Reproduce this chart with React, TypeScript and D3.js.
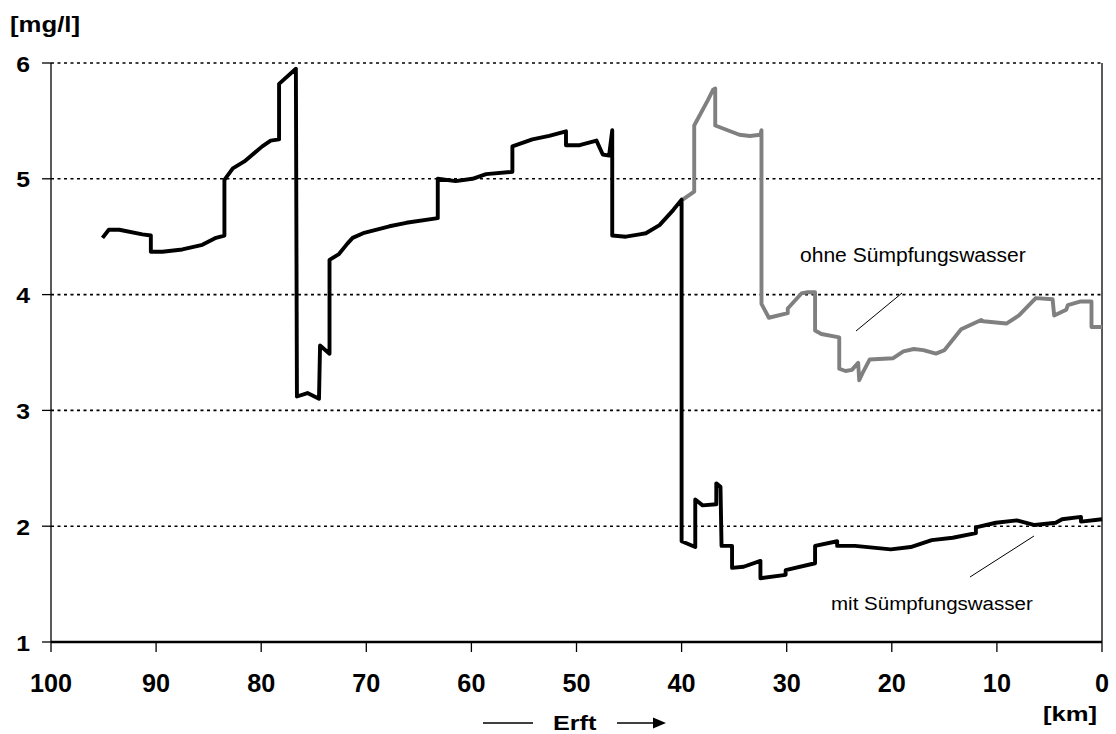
import React from "react";
import * as d3 from "d3";

// Black series: upstream part and "mit Sümpfungswasser"
const blackKm = [95.1, 94.5, 93.5, 91.3, 90.5, 90.5, 89.4, 87.5, 85.6, 84.3, 83.5, 83.5, 82.7, 81.6, 79.9, 79.1, 78.3, 78.3, 76.7, 76.6, 75.6, 74.5, 74.4, 73.5, 73.5, 72.6, 71.8, 71.3, 70.3, 67.8, 66.2, 63.2, 63.2, 61.5, 59.9, 58.6, 56.1, 56.1, 54.2, 52.6, 51.0, 51.0, 49.7, 48.1, 47.5, 46.9, 46.6, 46.6, 45.3, 44.0, 43.4, 42.1, 40.8, 40.0, 40.0, 38.7, 38.7, 38.0, 36.7, 36.7, 36.3, 36.2, 35.2, 35.2, 34.1, 32.5, 32.5, 30.1, 30.1, 27.3, 27.3, 25.2, 25.2, 23.5, 20.1, 18.2, 16.2, 14.2, 12.0, 12.0, 10.1, 8.1, 6.4, 4.4, 3.8, 2.0, 2.0, 0];
const blackVal = [4.49, 4.56, 4.56, 4.52, 4.51, 4.37, 4.37, 4.39, 4.43, 4.49, 4.51, 4.99, 5.09, 5.15, 5.28, 5.33, 5.34, 5.82, 5.95, 3.12, 3.15, 3.10, 3.56, 3.49, 4.30, 4.35, 4.44, 4.49, 4.53, 4.59, 4.62, 4.66, 5.00, 4.98, 5.00, 5.04, 5.06, 5.28, 5.34, 5.37, 5.41, 5.29, 5.29, 5.33, 5.21, 5.20, 5.42, 4.51, 4.50, 4.52, 4.53, 4.60, 4.73, 4.82, 1.87, 1.82, 2.23, 2.18, 2.19, 2.37, 2.34, 1.83, 1.83, 1.64, 1.65, 1.70, 1.55, 1.58, 1.62, 1.68, 1.83, 1.87, 1.83, 1.83, 1.80, 1.82, 1.88, 1.90, 1.94, 1.99, 2.03, 2.05, 2.01, 2.03, 2.06, 2.08, 2.04, 2.06];

// Gray series: "ohne Sümpfungswasser"
const grayKm = [39.9, 38.8, 38.8, 37.5, 37.0, 36.8, 36.8, 34.5, 33.5, 32.5, 32.4, 32.4, 31.7, 29.9, 29.9, 28.6, 28.0, 27.3, 27.3, 26.7, 25.0, 25.0, 24.4, 23.8, 23.2, 23.1, 22.8, 22.1, 19.9, 18.9, 17.9, 17.0, 15.8, 15.0, 13.4, 11.5, 11.3, 9.1, 7.9, 6.3, 4.7, 4.55, 3.4, 3.25, 2.1, 1.0, 1.0, 0];
const grayVal = [4.82, 4.89, 5.46, 5.68, 5.77, 5.78, 5.46, 5.38, 5.37, 5.38, 5.42, 3.92, 3.80, 3.84, 3.88, 4.01, 4.02, 4.02, 3.69, 3.66, 3.63, 3.36, 3.34, 3.35, 3.41, 3.26, 3.32, 3.44, 3.45, 3.51, 3.53, 3.52, 3.49, 3.52, 3.70, 3.78, 3.77, 3.75, 3.82, 3.97, 3.96, 3.82, 3.87, 3.91, 3.94, 3.94, 3.72, 3.72];

const xTicks = [100, 90, 80, 70, 60, 50, 40, 30, 20, 10, 0];
const yTicks = [1, 2, 3, 4, 5, 6];
const gridValues = [2, 3, 4, 5, 6];

const W = 1116;
const H = 734;
const L = 51;
const R = 1102;
const T = 63;
const B = 642;
const FONT = "'Liberation Sans', Arial, sans-serif";

const STxt = ({ x, y, sx = 1, size, weight = "bold", anchor = "start", children }: any) => (
  <g transform={`translate(${x},${y}) scale(${sx},1)`}>
    <text x={0} y={0} fontFamily={FONT} fontSize={size} fontWeight={weight} textAnchor={anchor} fill="#000">
      {children}
    </text>
  </g>
);

export default function App() {
  const x = d3.scaleLinear().domain([100, 0]).range([L, R]);
  const y = d3.scaleLinear().domain([1, 6]).range([B, T]);
  const line = d3
    .line<[number, number]>()
    .x((d) => x(d[0]))
    .y((d) => y(d[1]));
  const blackPts: [number, number][] = blackKm.map((k, i) => [k, blackVal[i]]);
  const grayPts: [number, number][] = grayKm.map((k, i) => [k, grayVal[i]]);

  return (
    <svg width={W} height={H} style={{ position: "absolute", left: 0, top: 0, background: "#fff" }}>
      <rect x={0} y={0} width={W} height={H} fill="#fff" />
      {gridValues.map((v) => (
        <line key={v} x1={L} x2={R} y1={y(v)} y2={y(v)} stroke="#000" strokeWidth={1.6} strokeDasharray="3,3.5" />
      ))}
      {/* right border */}
      <line x1={R} x2={R} y1={T} y2={B} stroke="#000" strokeWidth={1.3} />
      {/* y axis */}
      <line x1={L} x2={L} y1={T} y2={B} stroke="#000" strokeWidth={1.3} />
      {yTicks.map((v) => (
        <line key={v} x1={L - 9} x2={L} y1={y(v)} y2={y(v)} stroke="#000" strokeWidth={1.3} />
      ))}
      {/* x axis */}
      {xTicks.map((k) => (
        <line key={k} x1={x(k)} x2={x(k)} y1={B} y2={B + 10} stroke="#000" strokeWidth={1.3} />
      ))}
      <line x1={L} x2={R} y1={B} y2={B} stroke="#000" strokeWidth={2.6} />

      <path d={line(grayPts) || ""} fill="none" stroke="#808080" strokeWidth={3.9} strokeLinejoin="round" />
      <path d={line(blackPts) || ""} fill="none" stroke="#000" strokeWidth={3.9} strokeLinejoin="round" />

      {yTicks.map((v) => (
        <STxt key={v} x={30} y={y(v) + 8.5} sx={1.1} size={22.5} anchor="end">
          {String(v)}
        </STxt>
      ))}
      {xTicks.map((k) => (
        <STxt key={k} x={x(k)} y={692} sx={0.97} size={26} anchor="middle">
          {String(k)}
        </STxt>
      ))}
      <STxt x={10} y={32} sx={1.12} size={23}>
        [mg/l]
      </STxt>
      <STxt x={1043} y={721} sx={1.22} size={21}>
        [km]
      </STxt>
      <STxt x={553} y={730} sx={1.2} size={21}>
        Erft
      </STxt>
      <line x1={483} x2={533} y1={723} y2={723} stroke="#000" strokeWidth={1.5} />
      <line x1={617} x2={655} y1={723} y2={723} stroke="#000" strokeWidth={1.5} />
      <path d="M653,717.5 L666,723 L653,728.5 Z" fill="#000" />

      <STxt x={800} y={262} sx={1.08} size={19.5} weight="normal">
        ohne Sümpfungswasser
      </STxt>
      <line x1={856} y1={331} x2={902} y2={293} stroke="#000" strokeWidth={1} />
      <STxt x={831} y={610} sx={1.08} size={19} weight="normal">
        mit Sümpfungswasser
      </STxt>
      <line x1={970} y1={577} x2={1034} y2={536} stroke="#000" strokeWidth={1} />
    </svg>
  );
}
